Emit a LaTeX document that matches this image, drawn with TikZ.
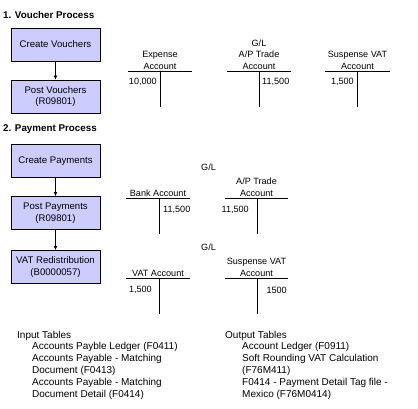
\documentclass[tikz,border=0pt]{standalone}
\usepackage{fontspec}
\setmainfont{Liberation Sans}
\usetikzlibrary{arrows.meta}
\definecolor{procfill}{RGB}{204,204,255}
\begin{document}
\begin{tikzpicture}[x=1pt,y=-1pt,
    procbox/.style={draw, fill=procfill, line width=0.7pt, minimum width=89pt,
      minimum height=33pt, align=center, inner sep=1pt,
      font=\fontsize{9.6}{11.5}\selectfont},
    head/.style={anchor=west, inner sep=0pt, font=\fontsize{9.8}{11}\selectfont\bfseries},
    acct/.style={anchor=south, align=center, inner sep=1.5pt,
      font=\fontsize{9.1}{11.5}\selectfont},
    amt/.style={inner sep=0pt, font=\fontsize{9.1}{10}\selectfont},
    tline/.style={line width=0.7pt},
    flow/.style={-{Latex[length=4pt,width=3.6pt]}, line width=0.7pt},
    listhead/.style={anchor=west, inner sep=0pt, font=\fontsize{10}{12}\selectfont},
    listbody/.style={anchor=north west, align=left, inner sep=0pt,
      font=\fontsize{10}{12}\selectfont}]
  \useasboundingbox (0,0) rectangle (418,409);

  % voucher process
  \node[head] (vtitle) at (3,15) {1. Voucher Process};
  \node[procbox] (cv) at (55.5,44.5) {Create Vouchers};
  \node[procbox] (pv) at (55.5,96.5) {Post Vouchers\\(R09801)};
  \draw[flow] (cv) -- (pv);

  \node[acct] (expacct) at (160,71) {Expense\\Account};
  \draw[tline] (128,71) -- (192,71) (160,71) -- (160,107);
  \node[amt, anchor=east] (expdr) at (157,82) {10,000};

  \node[acct] (apacct) at (259,71) {G/L\\A/P Trade\\Account};
  \draw[tline] (227,71) -- (291,71) (259,71) -- (259,107);
  \node[amt, anchor=west] (apcr) at (262,82) {11,500};

  \node[acct] (susacct) at (357.5,71) {Suspense VAT\\Account};
  \draw[tline] (325,71) -- (390,71) (357,71) -- (357,107);
  \node[amt, anchor=east] (susdr) at (354,82) {1,500};

  % payment process
  \node[head] (ptitle) at (3,129) {2. Payment Process};
  \node[procbox] (cp) at (55.5,161) {Create Payments};
  \node[procbox] (pp) at (55.5,213) {Post Payments\\(R09801)};
  \node[procbox] (vr) at (55.5,267) {VAT Redistribution\\(B0000057)};
  \draw[flow] (cp) -- (pp);
  \draw[flow] (pp) -- (vr);

  \node[amt, anchor=west] (gl1) at (201,167) {G/L};
  \node[acct] (bankacct) at (158,198) {Bank Account};
  \draw[tline] (126,198) -- (190,198) (159,198) -- (159,234);
  \node[amt, anchor=west] (bankcr) at (163,210) {11,500};
  \node[acct] (ap2acct) at (256.5,198) {A/P Trade\\Account};
  \draw[tline] (225,198) -- (288,198) (257,198) -- (257,234);
  \node[amt, anchor=east] (ap2dr) at (249,210) {11,500};

  \node[amt, anchor=west] (gl2) at (201,247) {G/L};
  \node[acct] (vatacct) at (158,278) {VAT Account};
  \draw[tline] (126,278) -- (190,278) (159,278) -- (159,314);
  \node[amt, anchor=east] (vatdr) at (152,290) {1,500};
  \node[acct] (sus2acct) at (256.5,278) {Suspense VAT\\Account};
  \draw[tline] (225,278) -- (288,278) (257,278) -- (257,314);
  \node[amt, anchor=east] (sus2cr) at (287,290) {1500};

  % tables
  \node[listhead] (intab) at (17,336) {Input Tables};
  \node[listbody] (inlist) at (32,342) {Accounts Payble Ledger (F0411)\\
    Accounts Payable - Matching\\Document (F0413)\\
    Accounts Payable - Matching\\Document Detail (F0414)};
  \node[listhead] (outtab) at (225,336) {Output Tables};
  \node[listbody] (outlist) at (242,342) {Account Ledger (F0911)\\
    Soft Rounding VAT Calculation\\(F76M411)\\
    F0414 - Payment Detail Tag file -\\Mexico (F76M0414)};
\end{tikzpicture}
\end{document}
